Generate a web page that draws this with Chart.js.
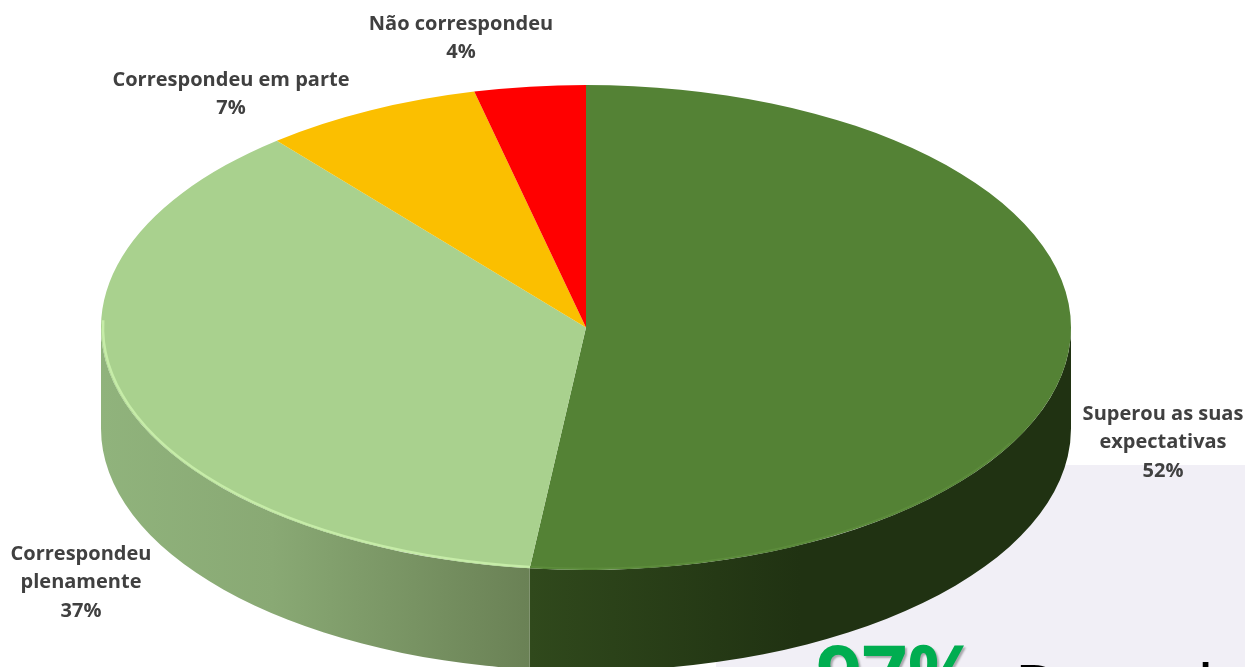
<!DOCTYPE html>
<html>
<head>
<meta charset="utf-8">
<style>
  html, body { margin: 0; padding: 0; background: #fff; overflow: hidden; }
  #wrap { position: relative; width: 1245px; height: 667px; overflow: hidden; }
  #box { position: absolute; left: 716px; top: 465px; right: 0; bottom: 0; background: #f1eff6; }
  #big { position: absolute; left: 816px; top: 632px; font: 700 80px "Open Sans", sans-serif; line-height: 1; color: #00ad50;
         text-shadow: 2px 2px 2px rgba(0,0,0,.3); white-space: nowrap; }
  #rest { position: absolute; left: 1014px; top: 653px; font: 400 70px "Open Sans", sans-serif; line-height: 1; color: #000; white-space: nowrap; }
  canvas { position: absolute; left: 0; top: 0; }
</style>
</head>
<body>
<div id="wrap">
  <div id="box"></div>
  <div id="big">97%</div>
  <div id="rest">Perceberam</div>
  <canvas id="pie" width="1245" height="667"></canvas>
</div>
<script src="https://cdn.jsdelivr.net/npm/chart.js@4"></script>
<script>
var categories = ["Superou as suas expectativas", "Correspondeu plenamente", "Correspondeu em parte", "Não correspondeu"];
// slice sizes, the labels show them rounded
var values = [51.85, 37.15, 7.3, 3.7];
var labelLines = [["Superou as suas", "expectativas"], ["Correspondeu", "plenamente"], ["Correspondeu em parte"], ["Não correspondeu"]];
var topColors = ["#548235", "#A9D18E", "#FBBF00", "#FF0000"];
var wallStops = [
  [[0, "#30491c"], [0.5, "#203212"], [1, "#203212"]],
  [[0, "#90b37c"], [0.4, "#89a974"], [1, "#6a8155"]],
  [[0, "#7a5c00"], [1, "#9a7400"]],
  [[0, "#770000"], [1, "#990000"]]
];
var rimColors = ["#5c8c3b", "#c6eca8", "#ffd040", "#ff3030"];

// centre of each label's first line
var labelPos = [[1163, 414], [81, 554], [231, 80], [461, 24]];

var squash = 2;   // pie is drawn at radius ry and stretched sideways
var depth = 101;

var pie3d = {
  id: "pie3d",
  beforeDatasetsDraw: function (chart) {
    var ctx = chart.ctx;
    var arcs = chart.getDatasetMeta(0).data;
    arcs.forEach(function (arc, i) {
      var a0 = Math.max(arc.startAngle, 0), a1 = Math.min(arc.endAngle, Math.PI);
      if (a1 <= a0) return;
      var rx = arc.outerRadius * squash, ry = arc.outerRadius;
      var xa = arc.x + rx * Math.cos(a0), xb = arc.x + rx * Math.cos(a1);
      var grad = ctx.createLinearGradient(Math.min(xa, xb), 0, Math.max(xa, xb), 0);
      wallStops[i].forEach(function (s) { grad.addColorStop(s[0], s[1]); });
      ctx.beginPath();
      ctx.ellipse(arc.x, arc.y, rx, ry, 0, a0, a1);
      ctx.ellipse(arc.x, arc.y + depth, rx, ry, 0, a1, a0, true);
      ctx.closePath();
      ctx.fillStyle = grad;
      ctx.fill();
    });
    // stretch the real slices into the tilted ellipse
    var cx = arcs[0].x;
    ctx.save();
    ctx.translate(cx, 0);
    ctx.scale(squash, 1);
    ctx.translate(-cx, 0);
  },
  afterDatasetsDraw: function (chart) {
    var ctx = chart.ctx;
    ctx.restore();
    var arcs = chart.getDatasetMeta(0).data;
    // light rim on the front edge of the top face
    arcs.forEach(function (arc, i) {
      var a0 = Math.max(arc.startAngle, 0.5), a1 = Math.min(arc.endAngle, Math.PI + 0.03);
      if (a1 <= a0) return;
      ctx.beginPath();
      ctx.ellipse(arc.x, arc.y, arc.outerRadius * squash - 2, arc.outerRadius - 1.5, 0, a0, a1);
      ctx.strokeStyle = rimColors[i];
      ctx.lineWidth = i == 1 ? 2.5 : 1.5;
      ctx.stroke();
    });
    ctx.font = "700 20px 'Open Sans', sans-serif";
    ctx.fillStyle = "#404040";
    ctx.textAlign = "center";
    ctx.textBaseline = "middle";
    labelLines.forEach(function (lines, i) {
      var all = lines.concat([Math.round(values[i]) + "%"]);
      all.forEach(function (txt, k) {
        ctx.fillText(txt, labelPos[i][0], labelPos[i][1] + k * 28.5);
      });
    });
  }
};

new Chart("pie", {
  type: "pie",
  data: {
    labels: categories,
    datasets: [{
      data: values,
      backgroundColor: topColors,
      borderWidth: 0
    }]
  },
  options: {
    responsive: false,
    animation: false,
    layout: { padding: { left: 101, right: 174, top: 85, bottom: 97 } },
    plugins: { legend: { display: false }, tooltip: { enabled: false } }
  },
  plugins: [pie3d]
});
</script>
</body>
</html>
